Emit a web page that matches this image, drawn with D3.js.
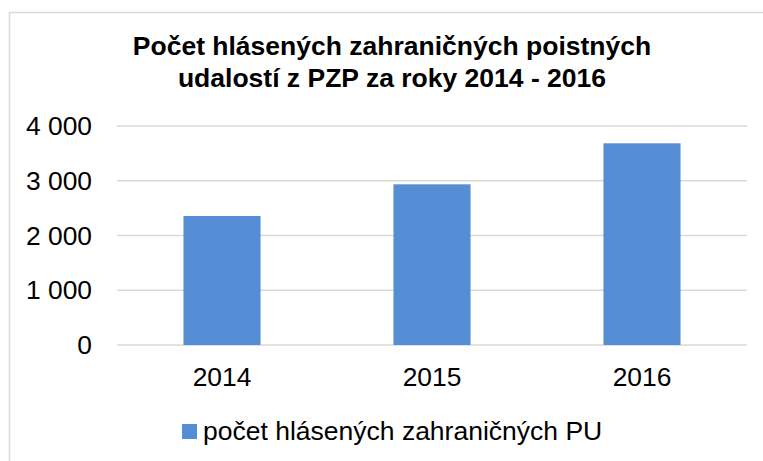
<!DOCTYPE html>
<html><head><meta charset="utf-8">
<script src="https://cdn.jsdelivr.net/npm/d3@7"></script>
<style>html,body{margin:0;padding:0;background:#fff;}svg{display:block;font-family:"Liberation Sans",Arial,sans-serif;}</style>
</head><body>
<svg id="c" width="763" height="461"></svg>
<script>
const categories = ["2014", "2015", "2016"];
const values = [2356, 2935, 3684];
const yTicks = [0, 1000, 2000, 3000, 4000];
const titleLines = ["Počet hlásených zahraničných poistných", "udalostí z PZP za roky 2014 - 2016"];
const seriesName = "počet hlásených zahraničných PU";

const svg = d3.select("#c");
const W = 763, H = 461;
svg.append("rect").attr("x", 9.5).attr("y", 12.5).attr("width", W + 20).attr("height", H + 20)
  .attr("fill", "#fff").attr("stroke", "#d9d9d9").attr("stroke-width", 1.5);

const x = d3.scaleBand().domain(categories).range([117, 747]).paddingInner(0.633).paddingOuter(0.3165);
const y = d3.scaleLinear().domain([0, 4000]).range([345, 126]);

// gridlines
svg.append("g").selectAll("line").data(yTicks).join("line")
  .attr("x1", 117).attr("x2", 747)
  .attr("y1", d => y(d)).attr("y2", d => y(d))
  .attr("stroke", "#d9d9d9").attr("stroke-width", 1.3);

// y labels
const fmt = d => d3.format(",")(d).replace(/,/g, " ");
svg.append("g").selectAll("text").data(yTicks).join("text")
  .attr("x", 92).attr("y", d => y(d)).attr("dy", "0.35em")
  .attr("text-anchor", "end").attr("font-size", 26.4).attr("fill", "#000")
  .text(fmt);

// bars
svg.append("g").selectAll("rect").data(values).join("rect")
  .attr("x", (d, i) => x(categories[i])).attr("width", x.bandwidth())
  .attr("y", d => y(d)).attr("height", d => y(0) - y(d))
  .attr("fill", "#558ed5");

// x labels
svg.append("g").selectAll("text").data(categories).join("text")
  .attr("x", d => x(d) + x.bandwidth() / 2).attr("y", 386)
  .attr("text-anchor", "middle").attr("font-size", 26.4).attr("fill", "#000")
  .text(d => d);

// title
svg.append("g").selectAll("text").data(titleLines).join("text")
  .attr("x", 392).attr("y", (d, i) => 55 + i * 31.7)
  .attr("text-anchor", "middle").attr("font-size", 26.5).attr("font-weight", "bold").attr("fill", "#000")
  .text(d => d);

// legend
svg.append("rect").attr("x", 182).attr("y", 424).attr("width", 15).attr("height", 15).attr("fill", "#558ed5");
svg.append("text").attr("x", 203).attr("y", 440).attr("font-size", 26.5).attr("fill", "#000").text(seriesName);
</script>
</body></html>
